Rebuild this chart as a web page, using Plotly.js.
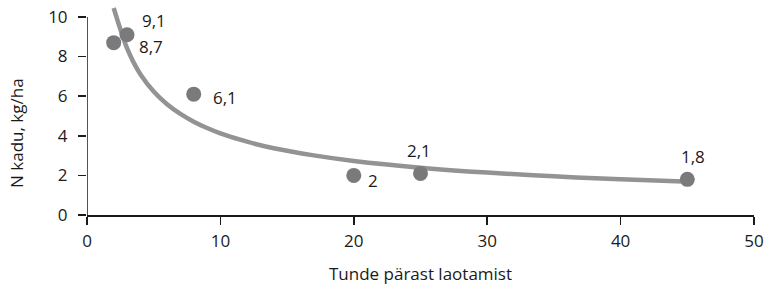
<!DOCTYPE html>
<html>
<head>
<meta charset="utf-8">
<script src="https://cdn.plot.ly/plotly-3.0.1.min.js"></script>
<style>html,body{margin:0;padding:0;background:#fff;}#chart{width:765px;height:285px;}</style>
</head>
<body>
<div id="chart"></div>
<script>
// Measured points
var hours = [2, 3, 8, 20, 25, 45];
var nLoss = [8.7, 9.1, 6.1, 2, 2.1, 1.8];
var labels = ["8,7", "9,1", "6,1", "2", "2,1", "1,8"];
// Trend curve
var curveX = [2.0, 2.5, 3, 3.5, 4, 5, 6, 7, 8, 9, 10, 12, 14, 17, 20, 25, 30, 35, 40, 44.7];
var curveY = [10.45, 9.38, 8.42, 7.69, 7.11, 6.23, 5.59, 5.10, 4.71, 4.39, 4.12, 3.70, 3.37, 3.01, 2.73, 2.39, 2.14, 1.95, 1.80, 1.69];
var xTicks = [0, 10, 20, 30, 40, 50];
var yTicks = [0, 2, 4, 6, 8, 10];
var xTitle = "Tunde pärast laotamist";
var yTitle = "N kadu, kg/ha";

// label offsets (style)
var offs = [[37, 4], [27, -14], [31, 3], [19, 5], [-2, -23], [6, -23]];

var font = "'Open Sans', 'Noto Sans', sans-serif";
var fs = 17;
var ink = "#1a1a1a";
var annotations = hours.map(function (h, i) {
  return {
    x: h, y: nLoss[i], xref: "x", yref: "y", text: labels[i], showarrow: false,
    xanchor: "center", yanchor: "middle", xshift: offs[i][0], yshift: -offs[i][1],
    font: {family: font, size: fs, color: ink}
  };
});
annotations.push({
  x: -0.1057, y: 0.397, xref: "paper", yref: "paper", text: yTitle, showarrow: false,
  textangle: -90, xanchor: "center", yanchor: "middle",
  font: {family: font, size: fs, color: ink}
});

var traces = [
  {x: curveX, y: curveY, mode: "lines", line: {color: "#939393", width: 4.5, shape: "spline", smoothing: 1}, hoverinfo: "skip"},
  {x: hours, y: nLoss, mode: "markers", marker: {color: "#7a7a7c", size: 15}, cliponaxis: false}
];

var layout = {
  width: 765, height: 285,
  margin: {l: 87, r: 11, t: 7, b: 70},
  paper_bgcolor: "#fff", plot_bgcolor: "#fff",
  showlegend: false,
  font: {family: font, size: fs, color: ink},
  xaxis: {
    range: [0, 50], tickvals: xTicks, ticks: "outside", ticklen: 8, tickwidth: 1.5, tickcolor: ink,
    showline: true, linecolor: ink, linewidth: 1.5, showgrid: false, zeroline: false, ticklabelstandoff: 2,
    tickfont: {family: font, size: fs, color: ink},
    title: {text: xTitle, font: {family: font, size: fs, color: ink}, standoff: 18}
  },
  yaxis: {
    range: [0, 10.5], tickvals: yTicks, ticks: "outside", ticklen: 8, tickwidth: 1.5, tickcolor: ink,
    showline: false, showgrid: false, zeroline: false, ticklabelstandoff: 7,
    tickfont: {family: font, size: fs, color: ink}
  },
  shapes: [{type: "line", xref: "x", yref: "y", x0: 0, x1: 0, y0: 0, y1: yTicks[yTicks.length - 1], line: {color: ink, width: 1.5}}],
  annotations: annotations
};

Plotly.newPlot("chart", traces, layout, {staticPlot: true, displayModeBar: false});
</script>
</body>
</html>
